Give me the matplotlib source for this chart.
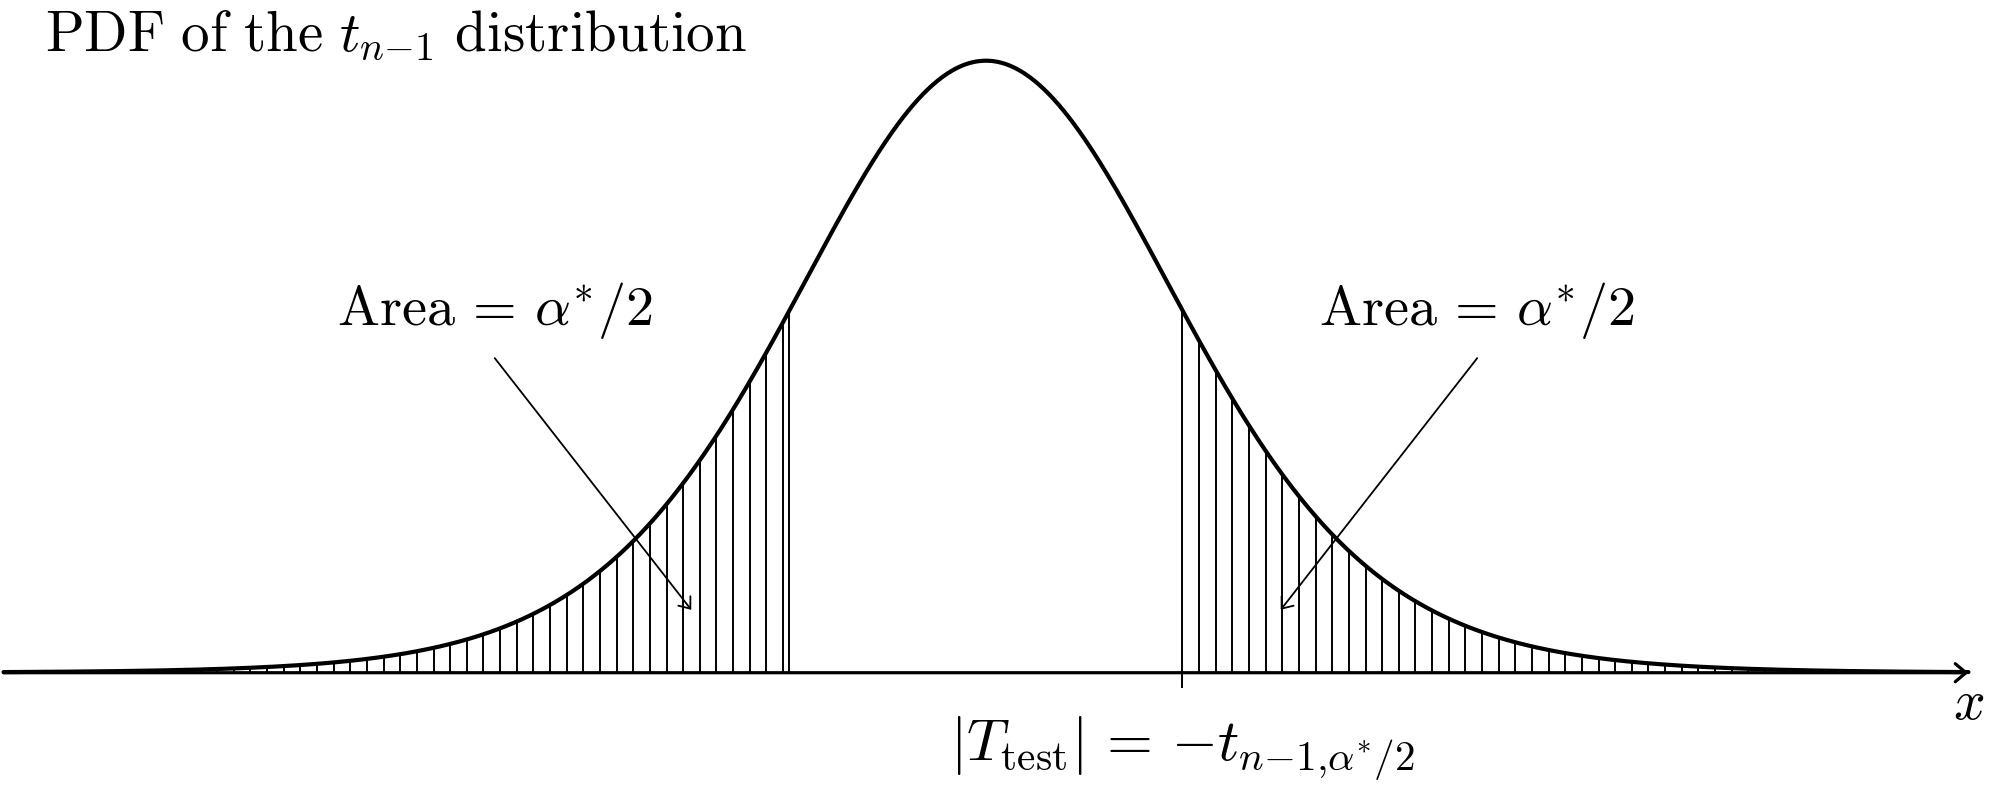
import numpy as np
import matplotlib
matplotlib.use("Agg")
import matplotlib.pyplot as plt
from math import gamma, pi, sqrt

plt.rcParams["mathtext.fontset"] = "cm"

dof = 10
t_crit = 1.0             # shaded tails start at +-t_crit
x_lo, x_hi = -5.0, 5.0   # axis / curve domain
hatch_step = 0.0847      # spacing of the vertical hatch lines
arrow_from = (2.5, 0.20)
arrow_to = (1.5, 0.04)

title = r"$\mathrm{PDF\ of\ the}\ t_{n{-}1}\ \mathrm{distribution}$"
area_label = r"$\mathrm{Area}\,=\,\alpha^{*}/2$"
crit_label = r"$|T_{\mathrm{test}}|\,=\,{-}t_{n{-}1{,}\alpha^{*}/2}$"
x_label = r"$x$"


def t_pdf(x, nu):
    c = gamma((nu + 1) / 2) / (sqrt(nu * pi) * gamma(nu / 2))
    return c * (1 + np.asarray(x) ** 2 / nu) ** (-(nu + 1) / 2)


fig = plt.figure(figsize=(20.04, 7.88), dpi=100)
ax = fig.add_axes([0, 0, 1, 1])
ax.set_xlim(-5.018, 5.181)
ax.set_ylim(-0.0733, 0.4277)
ax.axis("off")

# hatching of both tails
ks = np.arange(-200, 200)
hx = t_crit + ks * hatch_step
hx = hx[((hx <= -t_crit) | (hx >= t_crit)) & (hx >= x_lo) & (hx <= x_hi)]
hx = np.append(hx, -t_crit)
ax.vlines(hx, 0, t_pdf(hx, dof), color="black", lw=1.4, zorder=2)

# small tick under the critical value
ax.vlines(t_crit, -0.0095, 0, color="black", lw=1.4, zorder=2)

# x axis with arrow
ax.annotate("", xy=(x_hi, 0), xytext=(x_lo, 0),
            arrowprops=dict(arrowstyle="->,head_length=0.77,head_width=0.65",
                            lw=2.3, color="black", mutation_scale=10,
                            shrinkA=0, shrinkB=0, capstyle="round"),
            zorder=3)

# the pdf
xs = np.linspace(x_lo, x_hi, 1200)
ax.plot(xs, t_pdf(xs, dof), color="black", lw=3.0, solid_capstyle="round", zorder=4)

# area labels and arrows
for side in (-1, 1):
    ax.annotate("", xy=(side * arrow_to[0], arrow_to[1]),
                xytext=(side * arrow_from[0], arrow_from[1]),
                arrowprops=dict(arrowstyle="->,head_length=0.7,head_width=0.55",
                                lw=1.3, color="black", mutation_scale=10,
                                shrinkA=0, shrinkB=0),
                zorder=5)
    ax.text(side * arrow_from[0], 0.2211, area_label, fontsize=40.5,
            ha="center", va="baseline")

ax.text(t_crit, -0.0555, crit_label, fontsize=42.5, ha="center", va="baseline")
ax.text(x_hi, -0.0199, x_label, fontsize=40, ha="center", va="center")

fig.text(45 / 2004, 1 - 50 / 788, title, fontsize=41, ha="left", va="baseline")

fig.savefig("out.png", dpi=100)
